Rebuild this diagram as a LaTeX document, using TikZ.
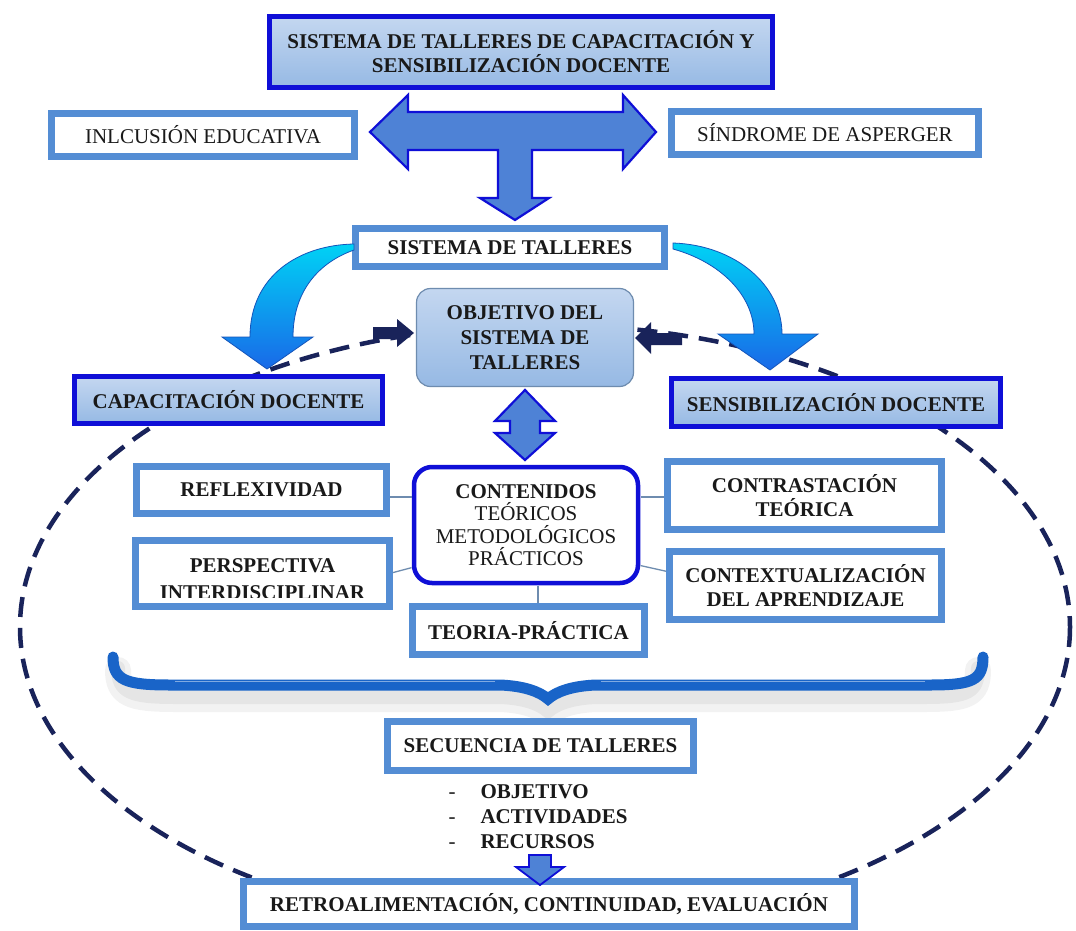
\documentclass[tikz,border=0pt]{standalone}
\usepackage{fontspec}
\setmainfont{Liberation Serif}
\newcommand\myfs{\fontsize{21}{24}\selectfont}
\definecolor{dkb}{RGB}{15,15,215}
\definecolor{stl}{RGB}{84,141,212}
\definecolor{lbA}{RGB}{196,215,240}
\definecolor{lbB}{RGB}{150,185,228}
\definecolor{txt}{RGB}{25,25,25}
\definecolor{navy}{RGB}{25,35,90}
\definecolor{lnc}{RGB}{110,140,175}
\definecolor{arrf}{RGB}{78,130,214}
\definecolor{cyanA}{RGB}{0,210,245}
\definecolor{blueB}{RGB}{25,105,232}
\definecolor{brc}{RGB}{25,100,200}
\tikzset{
  sbox/.style={draw=stl, line width=7pt, fill=white, font=\myfs\bfseries, text=txt,
    inner sep=0pt, outer sep=0pt, align=center},
  dbox/.style={draw=dkb, line width=5pt, top color=lbA, bottom color=lbB,
    font=\myfs\bfseries, text=txt, inner sep=0pt, outer sep=0pt, align=center},
  conn/.style={draw=lnc, line width=1.3pt},
  blockarr/.style={fill=arrf, draw=dkb, line width=2.2pt, line join=miter},
  curvarr/.style={top color=cyanA, bottom color=blueB, draw=blueB!80!black, line width=0.8pt},
  navyarr/.style={fill=navy, draw=none},
  dashell/.style={draw=navy, line width=4.5pt, dash pattern=on 20pt off 11pt},
}
\begin{document}
\begin{tikzpicture}[x=1pt,y=-1pt]
\useasboundingbox (0,0) rectangle (1076,931);
\fill[white] (0,0) rectangle (1076,931);

% dashed ellipse
\begin{scope}
\clip (0,0) rectangle (1076,895);
\draw[dashell] (545,627) ellipse [x radius=525, y radius=302];
\end{scope}

% brace with soft shadow
\path[draw=black, opacity=0.05, line width=26pt, line cap=round]
  (118,670) .. controls (118,694) and (130,699) .. (175,699) -- (500,699)
  .. controls (525,700) and (540,706) .. (548,713) .. controls (556,706) and (571,700) .. (596,699)
  -- (925,699) .. controls (968,699) and (978,694) .. (978,670);
\path[draw=black, opacity=0.05, line width=14pt, line cap=round]
  (118,668) .. controls (118,692) and (130,697) .. (175,697) -- (500,697)
  .. controls (525,698) and (540,704) .. (548,711) .. controls (556,704) and (571,698) .. (596,697)
  -- (925,697) .. controls (968,697) and (978,692) .. (978,668);
\path[draw=brc, line width=11pt, line cap=round]
  (113,657) .. controls (113,680) and (125,685) .. (170,685) -- (500,685)
  .. controls (525,686) and (540,692) .. (548,699) .. controls (556,692) and (571,686) .. (596,685)
  -- (930,685) .. controls (973,685) and (983,680) .. (983,657);
\path[draw=brc!55!white, line width=1.6pt] (175,681.5) -- (495,681.5);
\path[draw=brc!55!white, line width=1.6pt] (601,681.5) -- (925,681.5);

% boxes
\node[dbox, minimum width=503pt, minimum height=71pt] (top) at (521,52)
  {SISTEMA DE TALLERES DE CAPACITACIÓN Y\\SENSIBILIZACIÓN DOCENTE};
\node[sbox, font=\myfs, minimum width=303pt, minimum height=43pt] (incl) at (203,135) {INLCUSIÓN EDUCATIVA};
\node[sbox, font=\myfs, minimum width=307pt, minimum height=43pt] (sind) at (825,133) {SÍNDROME DE ASPERGER};
\node[sbox, minimum width=309pt, minimum height=38pt] (st) at (510,247.5) {SISTEMA DE TALLERES};
\node[draw=lnc, line width=1.2pt, rounded corners=14pt, top color=lbA, bottom color=lbB,
  font=\fontsize{21}{25}\selectfont\bfseries, text=txt, align=center, minimum width=217pt, minimum height=98pt,
  inner sep=0pt, outer sep=0pt] (obj) at (525,337.5) {OBJETIVO DEL\\SISTEMA DE\\TALLERES};
\node[dbox, minimum width=308pt, minimum height=47pt] (cap) at (228.5,400) {CAPACITACIÓN DOCENTE};
\node[dbox, minimum width=329pt, minimum height=48pt] (sens) at (836,402.5) {SENSIBILIZACIÓN DOCENTE};

\node[draw=dkb, line width=4.5pt, rounded corners=18pt, fill=white, text=txt, align=center,
  font=\fontsize{21}{22.5}\selectfont, minimum width=224pt, minimum height=116pt, inner sep=0pt, outer sep=0pt]
  (cont) at (526,525) {\textbf{CONTENIDOS}\\TEÓRICOS\\METODOLÓGICOS\\PRÁCTICOS};
\node[sbox, minimum width=250pt, minimum height=47pt] (refl) at (261.5,490) {REFLEXIVIDAD};
\node[sbox, minimum width=254pt, minimum height=66pt] (pers) at (262.5,573.5) {};
\begin{scope}
\clip (130,540) rectangle (400,597);
\node[font=\myfs\bfseries, text=txt, anchor=base] (persA) at (262.5,572) {PERSPECTIVA};
\node[font=\myfs\bfseries, text=txt, anchor=base] (persB) at (262.5,599.5) {INTERDISCIPLINAR};
\end{scope}
\node[sbox, minimum width=274pt, minimum height=68pt] (contr) at (804.5,495.5) {CONTRASTACIÓN\\TEÓRICA};
\node[sbox, minimum width=272pt, minimum height=68pt] (contx) at (805.5,585.5) {CONTEXTUALIZACIÓN\\DEL APRENDIZAJE};
\node[sbox, minimum width=232pt, minimum height=48pt] (teor) at (528.5,630.5) {TEORIA-PRÁCTICA};
\node[sbox, minimum width=306pt, minimum height=49pt] (sec) at (540.5,746) {SECUENCIA DE TALLERES};
\node[sbox, minimum width=611pt, minimum height=45pt] (retro) at (549,904) {RETROALIMENTACIÓN, CONTINUIDAD, EVALUACIÓN};

% list
\node[font=\myfs\bfseries, text=txt, anchor=base west] (l1) at (477,798) {OBJETIVO};
\node[font=\myfs\bfseries, text=txt, anchor=base west] (l2) at (477,823) {ACTIVIDADES};
\node[font=\myfs\bfseries, text=txt, anchor=base west] (l3) at (477,848) {RECURSOS};
\node[font=\myfs, text=txt, anchor=base] (d1) at (452,798) {-};
\node[font=\myfs, text=txt, anchor=base] (d2) at (452,823) {-};
\node[font=\myfs, text=txt, anchor=base] (d3) at (452,848) {-};

% connectors
\draw[conn, shorten <=3.5pt, shorten >=2.5pt] ([yshift=-7pt]refl.east) -- ([yshift=-7pt]refl.east -| cont.west);
\draw[conn, shorten <=3.5pt, shorten >=2.5pt] (pers.east) -- ([yshift=-42pt]cont.west);
\draw[conn, shorten <=3.5pt, shorten >=2.5pt] ([yshift=-1.5pt]contr.west) -- ([yshift=-1.5pt]contr.west -| cont.east);
\draw[conn, shorten <=3.5pt, shorten >=2.5pt] ([yshift=13.5pt]contx.west) -- ([yshift=-40pt]cont.east);
\draw[conn, shorten <=2.5pt, shorten >=3.5pt] ([xshift=12pt]cont.south) -- ([xshift=12pt]cont.south |- teor.north);

% T arrow
\path[blockarr] (370,132) -- (408,95) -- (408,112) -- (623,112) -- (623,95) -- (656,132)
  -- (623,169) -- (623,150) -- (532,150) -- (532,198) -- (549,198) -- (515,220)
  -- (480,198) -- (498,198) -- (498,150) -- (408,150) -- (408,169) -- cycle;

% vertical double arrow
\path[blockarr] (525,390) -- (555,421) -- (540,421) -- (540,433) -- (555,433) -- (525,460)
  -- (495,433) -- (510,433) -- (510,421) -- (495,421) -- cycle;

% small arrow to retro
\path[blockarr, line width=1.8pt] (529,855) -- (551,855) -- (551,867) -- (564,867) -- (540,885)
  -- (516,867) -- (529,867) -- cycle;

% curved arrows
\path[curvarr] (354,244) .. controls (300,245) and (250,275) .. (250,337) -- (222,337) -- (267,369)
  -- (313,337) -- (293,337) .. controls (293,290) and (320,262) .. (354,250) -- cycle;
\path[curvarr] (673,243) .. controls (735,245) and (782,285) .. (782,334) -- (818,334) -- (770,370)
  -- (718,334) -- (754,334) .. controls (754,295) and (720,262) .. (673,249) -- cycle;

% navy arrows to objective
\path[navyarr] (373,327) -- (397,327) -- (397,319) -- (414,333) -- (397,347) -- (397,339) -- (373,339) -- cycle;
\path[navyarr] (682,333) -- (651,333) -- (651,322) -- (635,338) -- (651,354) -- (651,345) -- (682,345) -- cycle;
\end{tikzpicture}
\end{document}
